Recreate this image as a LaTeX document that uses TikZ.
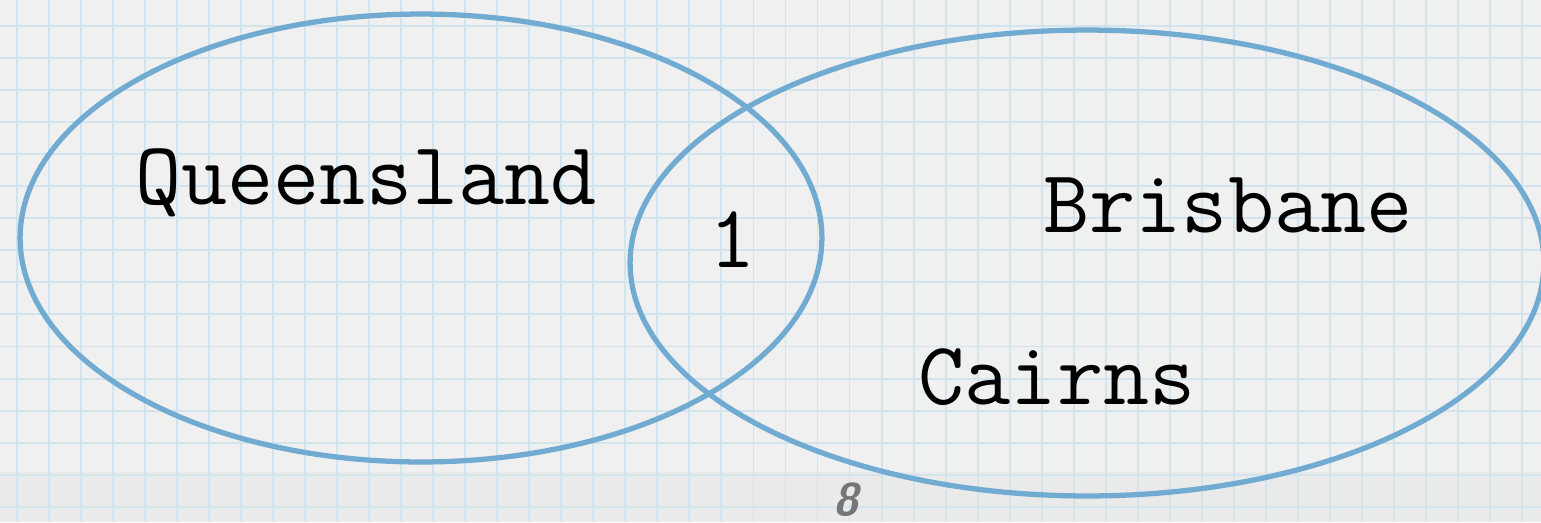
\documentclass[tikz,border=0pt]{standalone}
\usepackage{fontspec}
\usetikzlibrary{shapes.geometric, positioning}
\definecolor{paperbg}{RGB}{240,240,240}
\definecolor{paperband}{RGB}{234,234,234}
\definecolor{gridblue}{RGB}{210,228,238}
\definecolor{setblue}{RGB}{114,171,210}
\definecolor{pagegray}{RGB}{118,118,118}

\begin{document}
\begin{tikzpicture}[
    x=0.02cm, y=-0.02cm,
    gridline/.style={draw=gridblue, line width=1.1pt},
    setshape/.style={ellipse, draw=setblue, line width=3pt, inner sep=0pt},
    label/.style={font=\ttfamily\fontsize{51}{51}\selectfont, text=black, inner sep=0pt},
    pagenum/.style={font=\sffamily\bfseries\itshape\fontsize{26}{26}\selectfont, text=pagegray, inner sep=0pt}
]
\useasboundingbox (0,0) rectangle (1541,522);

% Paper and grid
\fill[paperbg] (0,0) rectangle (1541,522);
\fill[paperband] (0,472) rectangle (1541,522);
\foreach \i in {0,...,47} {
  \draw[gridline] ({17+32.02*\i},0) -- ({17+32.02*\i},522);
}
\foreach \j in {0,...,15} {
  \draw[gridline] (0,{26+32.05*\j}) -- (1541,{26+32.05*\j});
}

% Sets
\node[setshape, minimum width=16.04cm, minimum height=8.96cm] (state) at (421,238) {};
\node[setshape, minimum width=18.28cm, minimum height=9.32cm] (city) at (1087,263) {};

% Labels
\node[label] (queensland) at (366,183) {Queensland};
\node[label] (overlap) at (733,240) {1};
\node[label] (brisbane) at (1228,205) {Brisbane};
\node[label] (cairns) at (1057,377) {Cairns};

% Page number
\node[pagenum] (page) at (846,500) {8};

\end{tikzpicture}
\end{document}
